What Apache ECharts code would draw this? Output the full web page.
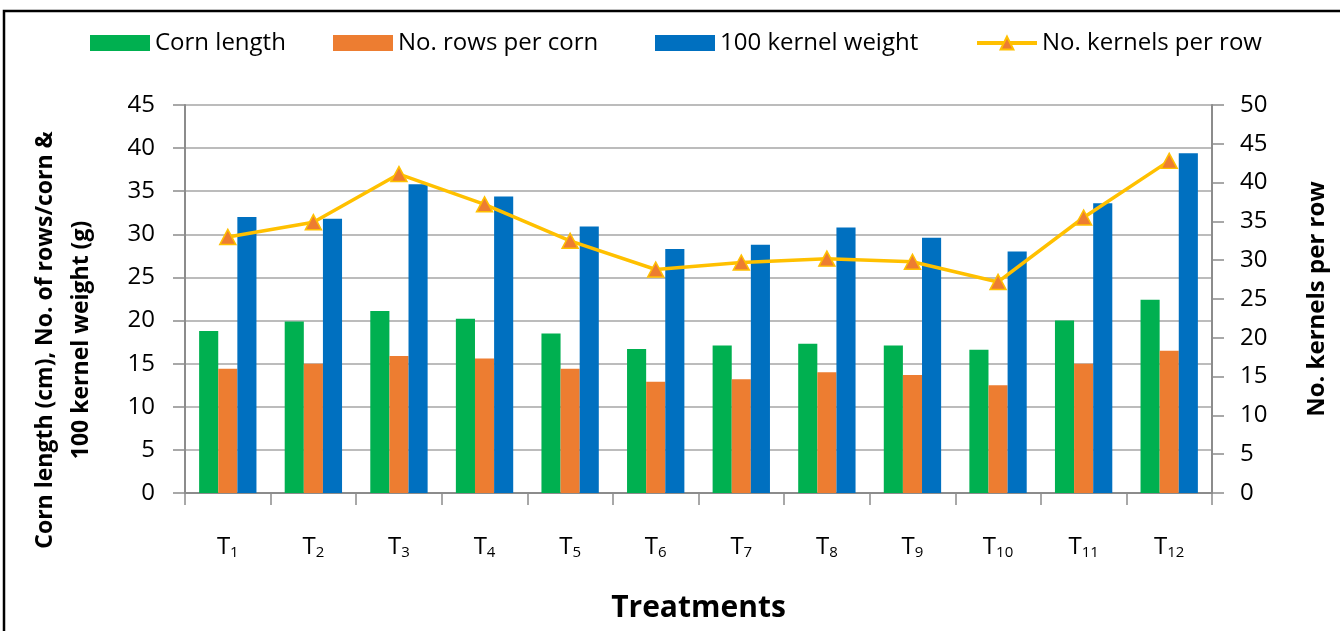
<!DOCTYPE html>
<html>
<head>
<meta charset="utf-8">
<script src="https://cdn.jsdelivr.net/npm/echarts@6/dist/echarts.min.js"></script>
<style>
  html,body{margin:0;padding:0;background:#fff;}
  #chart{width:1340px;height:631px;}
</style>
</head>
<body>
<div id="chart"></div>
<script>
// Corn yield components per treatment
const treatments = ['1','2','3','4','5','6','7','8','9','10','11','12'];
const cornLength = [18.8, 19.9, 21.1, 20.2, 18.5, 16.7, 17.1, 17.3, 17.1, 16.6, 20.0, 22.4];
const rowsPerCorn = [14.4, 15.0, 15.9, 15.6, 14.4, 12.9, 13.2, 14.0, 13.7, 12.5, 15.0, 16.5];
const kernelWeight = [32.0, 31.8, 35.8, 34.4, 30.9, 28.3, 28.8, 30.8, 29.6, 28.0, 33.6, 39.4];
const kernelsPerRow = [33.0, 34.9, 41.1, 37.2, 32.5, 28.8, 29.7, 30.2, 29.8, 27.2, 35.5, 42.8];
const seriesNames = ['Corn length','No. rows per corn','100 kernel weight','No. kernels per row'];
const leftTicks = [0, 45, 5];
const rightTicks = [0, 50, 5];

const FONT = "'Open Sans', 'Noto Sans', sans-serif";
const C = { green:'#00b050', orange:'#ed7d31', blue:'#0070c0', line:'#ffc000',
  grid:'#a6a6a6', axis:'#8c8c8c', text:'#000' };

const chart = echarts.init(document.getElementById('chart'), null, {renderer:'canvas'});
const axisCommon = {
  axisLine:{show:true, lineStyle:{color:C.axis, width:2}},
  axisTick:{show:true, length:12, lineStyle:{color:C.axis, width:1.5}},
  axisLabel:{color:C.text, fontFamily:FONT, fontSize:24}
};
// one legend per item so each sits where the original has it
const legendLefts = [85, 328, 650, 970];
const legends = seriesNames.map((n, i) => ({
  data:[i < 3 ? {name:n, icon:'rect'} : n], top:26, left:legendLefts[i],
  itemWidth:60, itemHeight:16,
  lineStyle:{width:4},
  textStyle:{color:C.text, fontFamily:FONT, fontSize:24}
}));

chart.setOption({
  backgroundColor:'#fff',
  animation:false,
  grid:{left:185, right:128, top:105, bottom:138},
  graphic:[
    {type:'rect', shape:{x:4, y:11, width:1340, height:630},
      style:{fill:'none', stroke:'#000', lineWidth:2.5}},
    {type:'text', x:63, y:340, rotation:Math.PI/2,
      style:{text:'Corn length (cm), No. of rows/corn &\n100 kernel weight (g)',
        fontFamily:FONT, fontSize:23, fontWeight:'bold', fill:C.text,
        align:'center', verticalAlign:'middle', lineHeight:36}}
  ],
  legend:legends,
  xAxis:{
    type:'category', data:treatments, ...axisCommon,
    axisLabel:{margin:42, formatter:v => '{t|T}{s|' + v + '}',
      rich:{t:{fontFamily:FONT, fontSize:24, color:C.text},
            s:{fontFamily:FONT, fontSize:15, color:C.text, verticalAlign:'bottom', padding:[10,0,0,0]}}},
    name:'Treatments', nameLocation:'middle', nameGap:100,
    nameTextStyle:{fontFamily:FONT, fontSize:30, fontWeight:'bold', color:C.text}
  },
  yAxis:[{
    type:'value', min:leftTicks[0], max:leftTicks[1], interval:leftTicks[2], ...axisCommon,
    axisLabel:{...axisCommon.axisLabel, margin:30},
    splitLine:{show:true, lineStyle:{color:C.grid, width:1.5}}
  },{
    type:'value', min:rightTicks[0], max:rightTicks[1], interval:rightTicks[2], ...axisCommon,
    axisLabel:{...axisCommon.axisLabel, margin:28},
    splitLine:{show:false},
    name:'No. kernels per row', nameLocation:'middle', nameRotate:90, nameGap:93,
    nameTextStyle:{fontFamily:FONT, fontSize:24, fontWeight:'bold', color:C.text}
  }],
  series:[
    {name:seriesNames[0], type:'bar', data:cornLength, barGap:'0%', barCategoryGap:'33%',
      itemStyle:{color:C.green}},
    {name:seriesNames[1], type:'bar', data:rowsPerCorn, itemStyle:{color:C.orange}},
    {name:seriesNames[2], type:'bar', data:kernelWeight, itemStyle:{color:C.blue}},
    {name:seriesNames[3], type:'line', yAxisIndex:1, data:kernelsPerRow,
      symbol:'triangle', symbolSize:[16,15],
      lineStyle:{color:C.line, width:3.5},
      itemStyle:{color:C.orange, borderColor:C.line, borderWidth:1.5}}
  ]
});
</script>
</body>
</html>
